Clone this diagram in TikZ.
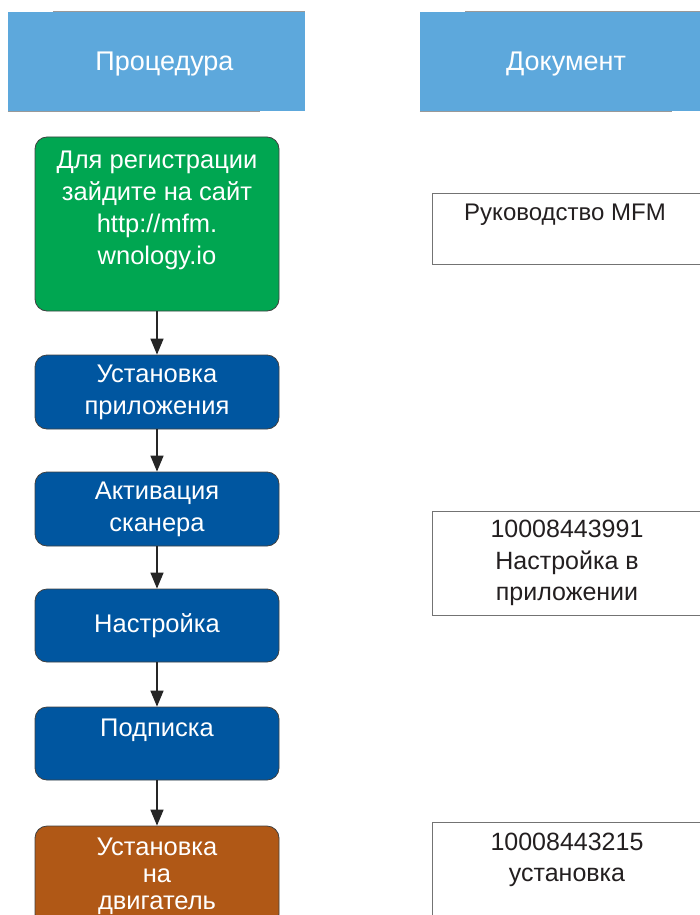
\documentclass[tikz,border=0pt]{standalone}
\usepackage{fontspec}
\setmainfont{Liberation Sans}
\usepackage{xcolor}
\usetikzlibrary{arrows.meta}

\definecolor{headblue}{RGB}{93,168,220}
\definecolor{stepgreen}{RGB}{0,166,81}
\definecolor{stepblue}{RGB}{0,86,160}
\definecolor{stepbrown}{RGB}{176,88,22}
\definecolor{doctext}{RGB}{35,31,32}

\begin{document}
\begin{tikzpicture}[x=1pt, y=-1pt,
  every node/.style={font=\fontsize{25.5}{32}\selectfont, align=center, inner sep=0pt},
  headbox/.style={fill=headblue, text=white, minimum width=297pt, minimum height=99pt,
    font=\fontsize{27}{32}\selectfont, text depth=0pt},
  stepbox/.style={draw=black!75, line width=0.8pt, rounded corners=12pt, text=white,
    minimum width=244pt, minimum height=74pt},
  docbox/.style={draw=black!55, line width=0.8pt, fill=white, text=doctext,
    minimum width=270pt, font=\fontsize{25}{31.5}\selectfont},
  shadowline/.style={draw=black!40, line width=1pt},
  flow/.style={draw=black!85, line width=1.5pt, -{Triangle[length=16pt, width=13pt]}}]

  % Keep the page at the size of the reference
  \clip (0,0) rectangle (700,915);

  % Column headers
  \node[headbox] (proc) at (156.5,61.5) {\hspace*{16pt}Процедура};
  \node[headbox, minimum width=292pt] (doc) at (566,61.5) {Документ};
  \draw[shadowline] ([xshift=45pt]proc.north west) -- (proc.north east);
  \draw[shadowline] (proc.south west) -- ([xshift=-45pt]proc.south east);
  \draw[shadowline] ([xshift=45pt]doc.north west) -- (doc.north east);
  \draw[shadowline] (doc.south west) -- ([xshift=-40pt]doc.south east);

  % Procedure steps
  \node[stepbox, fill=stepgreen, minimum height=174pt] (reg) at (157,224)
    {Для регистрации\\зайдите на сайт\\http://mfm.\\wnology.io\\~};
  \node[stepbox, fill=stepblue] (inst) at (157,392) {Установка\\приложения};
  \node[stepbox, fill=stepblue] (activ) at (157,509) {Активация\\сканера};
  \node[stepbox, fill=stepblue, minimum height=73pt] (setup) at (157,625.5) {Настройка};
  \node[stepbox, fill=stepblue, minimum height=73pt] (subs) at (157,743.5) {Подписка\\~};
  \node[stepbox, fill=stepbrown, minimum height=100pt,
    font=\fontsize{25.5}{27}\selectfont] (mount) at (157,876) {Установка\\на\\двигатель};

  % Documents
  \node[docbox, minimum height=71pt, font=\fontsize{24}{32}\selectfont] (guide) at (567,228.5)
    {Руководство MFM\hspace*{4pt}\\~};
  \node[docbox, minimum height=104pt] (appdoc) at (567,563)
    {10008443991\\Настройка в\\приложении};
  \node[docbox, minimum height=102pt] (instdoc) at (567,873) {10008443215\\установка\\~};

  % Arrows between the steps
  \draw[flow] (reg) -- (inst);
  \draw[flow] (inst) -- (activ);
  \draw[flow] (activ) -- (setup);
  \draw[flow] (setup) -- (subs);
  \draw[flow] (subs) -- (mount);
\end{tikzpicture}
\end{document}
